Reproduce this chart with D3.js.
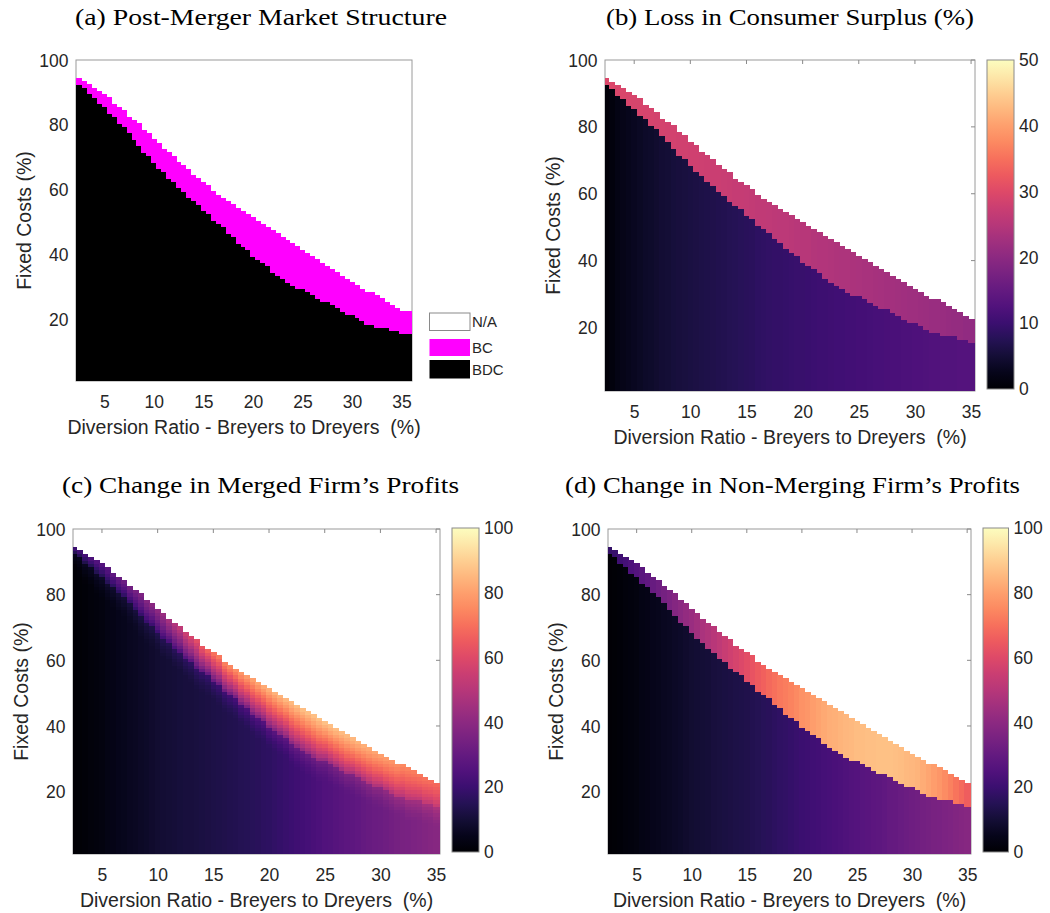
<!DOCTYPE html>
<html lang="en">
<head>
<meta charset="utf-8">
<title>Merger simulation maps</title>
<script src="https://cdn.jsdelivr.net/npm/d3@7"></script>
<style>
  body { margin: 0; background: #fff; }
  text { font-family: "Liberation Sans", Arial, sans-serif; fill: #262626; }
  .title { font-family: "Liberation Serif", "DejaVu Serif", serif; fill: #000; }
</style>
</head>
<body>
<script>
// diversion ratio grid (%), one column every 0.5 point
var ratios = d3.range(2.5, 35.01, 0.5);

// fixed cost (%) thresholds per column
// rows above upperFC: N/A, between: BC, at or below lowerFC: BDC
var upperFC = [94, 93, 92, 91, 90,  89, 88, 86, 85, 84,  82, 81, 80, 78, 77,
               75, 74, 72, 71, 70,  68, 67, 66, 64, 63,  62, 61, 59, 58, 57,
               56, 55, 54, 53, 52,  51, 50, 49, 48, 47,  46, 45, 44, 43, 42,
               41, 40, 39, 38, 37,  36, 35, 34, 33, 32,  31, 30, 29, 28, 28,
               27, 26, 25, 24, 23,  22];
var lowerFC = [92, 91, 89, 88, 86,  85, 83, 82, 80, 79,  77, 75, 73, 71, 70,
               68, 66, 65, 63, 62,  60, 59, 57, 56, 55,  53, 52, 50, 49, 48,
               46, 45, 43, 42, 41,  39, 38, 37, 36, 34,  33, 32, 31, 30, 29,
               29, 28, 27, 26, 25,  25, 24, 23, 22, 21,  21, 20, 19, 18, 18,
               17, 17, 17, 16, 16,  15];

// (b) loss in consumer surplus (%)
var csLossBDC = [0.8, 1.3, 1.8, 2.3, 2.7,  3.1, 3.5, 3.8, 4.1, 4.4,  4.7, 5.0, 5.3, 5.5, 5.8,
                 6.0, 6.2, 6.4, 6.6, 6.8,  7.0, 7.2, 7.4, 7.6, 7.8,  8.0, 8.2, 8.4, 8.6, 8.8,
                 9.0, 9.1, 9.3, 9.4, 9.6,  9.7, 9.9, 10.0, 10.2, 10.3,  10.5, 10.6, 10.7, 10.8, 10.9,
                 11.0, 11.1, 11.3, 11.4, 11.5,  11.7, 11.8, 11.9, 12.0, 12.1,  12.2, 12.3, 12.4, 12.5, 12.6,
                 12.7, 12.8, 12.8, 12.9, 13.0,  13.0];
var csLossBC = [29.6, 29.5, 29.4, 29.3, 29.2,  29.1, 29.0, 28.9, 28.8, 28.7,  28.6, 28.5, 28.4, 28.3, 28.2,
                28.1, 28.0, 27.8, 27.7, 27.5,  27.4, 27.2, 27.1, 26.9, 26.8,  26.6, 26.5, 26.3, 26.2, 26.0,
                25.9, 25.7, 25.6, 25.4, 25.3,  25.1, 25.0, 24.8, 24.6, 24.5,  24.3, 24.2, 24.0, 23.9, 23.7,
                23.6, 23.4, 23.3, 23.1, 23.0,  22.8, 22.7, 22.5, 22.4, 22.2,  22.1, 21.9, 21.8, 21.6, 21.5,
                21.3, 21.2, 21.0, 20.9, 20.7,  20.6];

// (c) change in merged firm's profits (%)
var mergedBDC = [0.5, 1.0, 1.5, 2.0, 2.5,  3.0, 3.6, 4.2, 4.8, 5.4,  6.0, 6.6, 7.2, 7.8, 8.4,
                 9.0, 9.4, 9.8, 10.2, 10.6,  11.0, 11.3, 11.6, 11.9, 12.2,  12.5, 12.9, 13.3, 13.7, 14.1,
                 14.5, 15.0, 15.5, 16.0, 16.5,  17.0, 17.8, 18.6, 19.4, 20.2,  21.0, 21.8, 22.6, 23.4, 24.2,
                 25.0, 25.7, 26.4, 27.1, 27.8,  28.5, 29.2, 29.9, 30.6, 31.3,  32.0, 32.7, 33.4, 34.1, 34.8,
                 35.5, 36.1, 36.7, 37.3, 37.9,  38.5];
var mergedBCTop = [20, 21, 22, 24, 25,  26, 27.5, 29, 30.5, 32,  33, 34.5, 36, 37.5, 39,
                   40, 43, 46, 49, 52,  55, 58, 61, 64, 67,  70, 71.6, 73.2, 74.8, 76.4,
                   78, 79, 80, 81, 82,  83, 83.6, 84.2, 84.8, 85.4,  86, 86.2, 86.4, 86.6, 86.8,
                   87, 86.6, 86.2, 85.8, 85.4,  85, 84, 83, 82, 81,  80, 78.8, 77.6, 76.4, 75.2,
                   74, 72.8, 71.6, 70.4, 69.2,  68];
var mergedBCBottom = [6, 6.6, 7.2, 7.8, 8.4,  9, 9.6, 10.2, 10.8, 11.4,  12, 12.6, 13.2, 13.8, 14.4,
                      15, 15.6, 16.2, 16.8, 17.4,  18, 18.6, 19.2, 19.8, 20.4,  21, 21.8, 22.6, 23.4, 24.2,
                      25, 25.6, 26.2, 26.8, 27.4,  28, 28.8, 29.6, 30.4, 31.2,  32, 32.6, 33.2, 33.8, 34.4,
                      35, 35.8, 36.6, 37.4, 38.2,  39, 39.6, 40.2, 40.8, 41.4,  42, 42.8, 43.6, 44.4, 45.2,
                      46, 46.8, 47.6, 48.4, 49.2,  50];

// (d) change in non-merging firm's profits (%)
var rivalBDC = [0.5, 1.0, 1.5, 2.0, 2.5,  3.0, 3.6, 4.2, 4.8, 5.4,  6.0, 6.6, 7.2, 7.8, 8.4,
                9.0, 9.5, 10.0, 10.5, 11.0,  11.5, 11.9, 12.3, 12.7, 13.1,  13.5, 14.1, 14.7, 15.3, 15.9,
                16.5, 17.2, 17.9, 18.6, 19.3,  20.0, 20.6, 21.2, 21.8, 22.4,  23.0, 23.6, 24.2, 24.8, 25.4,
                26.0, 26.6, 27.2, 27.8, 28.4,  29.0, 29.7, 30.4, 31.1, 31.8,  32.5, 33.1, 33.7, 34.3, 34.9,
                35.5, 36.1, 36.7, 37.3, 37.9,  38.5];
var rivalBC = [18, 19.5, 21, 22.5, 24.5,  26, 27.5, 29, 30.5, 32.5,  34, 36, 38, 39.5, 41.5,
               43, 45, 47, 48.5, 50.5,  52, 54, 56, 57.5, 59.5,  61, 63, 65, 66.5, 68.5,
               70, 71.5, 73, 74, 75.5,  77, 78, 79.5, 80.5, 82,  83, 83.5, 84, 85, 85.5,
               86, 86.2, 86.5, 86.7, 86.9,  87, 86.8, 86.4, 86, 85.5,  85, 84, 82.5, 81, 79.5,
               78, 76, 73.5, 71, 68.5,  66];

var xTicks = [5, 10, 15, 20, 25, 30, 35];
var yTicks = [20, 40, 60, 80, 100];
var legendLabels = ["N/A", "BC", "BDC"];

var svg = d3.select("body").append("svg")
    .attr("width", 1050)
    .attr("height", 913);

var panels = [
  { key: "a", title: "(a) Post-Merger Market Structure", left: 76, top: 60, w: 336, h: 321,
    xdom: [2.15, 36.05], titleX: 261, titleY: 25, titleLen: 372 },
  { key: "b", title: "(b) Loss in Consumer Surplus (%)", left: 605, top: 60, w: 370, h: 331,
    xdom: [2.4, 35.35], titleX: 790, titleY: 25, titleLen: 368,
    cbar: { x: 987, y: 60, w: 27, h: 329, max: 50, ticks: [0, 10, 20, 30, 40, 50] } },
  { key: "c", title: "(c) Change in Merged Firm\u2019s Profits", left: 73, top: 529, w: 367, h: 325,
    xdom: [2.4, 35.35], titleX: 260.5, titleY: 493, titleLen: 397,
    cbar: { x: 452, y: 528, w: 27, h: 324, max: 100, ticks: [0, 20, 40, 60, 80, 100] } },
  { key: "d", title: "(d) Change in Non-Merging Firm\u2019s Profits", left: 608, top: 529, w: 363, h: 325,
    xdom: [2.4, 35.35], titleX: 792.5, titleY: 493, titleLen: 455,
    cbar: { x: 983, y: 528, w: 25.5, h: 324, max: 100, ticks: [0, 20, 40, 60, 80, 100] } }
];

panels.forEach(drawPanel);

function drawPanel(p) {
  var x = d3.scaleLinear().domain(p.xdom).range([0, p.w]);
  var y = d3.scaleLinear().domain([1, 100]).range([p.h, 0]);
  var color = p.cbar ? d3.scaleSequential(d3.interpolateMagma).domain([0, p.cbar.max]) : null;

  // title
  svg.append("text")
      .attr("class", "title")
      .attr("x", p.titleX)
      .attr("y", p.titleY)
      .attr("text-anchor", "middle")
      .attr("font-size", 23)
      .attr("textLength", p.titleLen)
      .attr("lengthAdjust", "spacingAndGlyphs")
      .text(p.title);

  var g = svg.append("g").attr("transform", "translate(" + p.left + "," + p.top + ")");

  g.append("clipPath").attr("id", "clip-" + p.key)
    .append("rect").attr("width", p.w).attr("height", p.h);

  // frame and mirrored ticks sit under the image, like the original
  g.append("rect")
      .attr("width", p.w).attr("height", p.h)
      .attr("fill", "none").attr("stroke", "#9a9a9a");
  if (p.key !== "a") {
    g.selectAll(".ttick").data(xTicks).enter().append("line")
        .attr("x1", function(d) { return x(d); }).attr("x2", function(d) { return x(d); })
        .attr("y1", 0).attr("y2", 4)
        .attr("stroke", "#8a8a8a");
    g.selectAll(".rtick").data(yTicks).enter().append("line")
        .attr("x1", p.w).attr("x2", p.w - 4)
        .attr("y1", function(d) { return y(d); }).attr("y2", function(d) { return y(d); })
        .attr("stroke", "#8a8a8a");
  }

  var img = g.append("g")
      .attr("clip-path", "url(#clip-" + p.key + ")")
      .attr("shape-rendering", "crispEdges");

  function cell(px, pw, r0, r1, fill) {
    img.append("rect")
        .attr("x", px).attr("width", pw + 0.4)
        .attr("y", y(r1)).attr("height", y(r0) - y(r1) + 0.4)
        .attr("fill", fill);
  }

  ratios.forEach(function(r, i) {
    var xa = i === 0 ? p.xdom[0] : (ratios[i - 1] + r) / 2;
    var xb = i === ratios.length - 1 ? p.xdom[1] : (r + ratios[i + 1]) / 2;
    var px = x(xa), pw = x(xb) - x(xa);
    var lo = lowerFC[i], up = upperFC[i];
    var row, t, v;

    if (p.key === "a") {
      cell(px, pw, 0.5, lo + 0.5, "#000000");
      cell(px, pw, lo + 0.5, up + 0.5, "#ff00ff");
    }
    if (p.key === "b") {
      cell(px, pw, 0.5, lo + 0.5, color(csLossBDC[i]));
      cell(px, pw, lo + 0.5, up + 0.5, color(csLossBC[i]));
    }
    if (p.key === "d") {
      cell(px, pw, 0.5, lo + 0.5, color(rivalBDC[i]));
      cell(px, pw, lo + 0.5, up + 0.5, color(rivalBC[i]));
    }
    if (p.key === "c") {
      // flat BDC part, then a short fade just under the band
      var fade = 6;
      cell(px, pw, 0.5, lo - fade + 0.5, color(mergedBDC[i]));
      for (row = lo - fade + 1; row <= lo; row++) {
        t = Math.pow((row - (lo - fade)) / (fade + 1), 1.6);
        v = mergedBDC[i] + (mergedBCBottom[i] - mergedBDC[i]) * t;
        cell(px, pw, row - 0.5, row + 0.5, color(v));
      }
      // merged firm's gain rises towards the top of the BC band
      for (row = lo + 1; row <= up; row++) {
        t = Math.pow((row - lo) / (up - lo), 0.7);
        v = mergedBCBottom[i] + (mergedBCTop[i] - mergedBCBottom[i]) * t;
        cell(px, pw, row - 0.5, row + 0.5, color(v));
      }
    }
  });

  // axes
  var xAxis = g.append("g")
      .attr("transform", "translate(0," + p.h + ")")
      .call(d3.axisBottom(x).tickValues(xTicks).tickSize(0));
  xAxis.select(".domain").remove();
  xAxis.selectAll("text")
      .attr("y", 27).attr("dy", null)
      .attr("font-size", 17.5)
      .style("font-family", "'Liberation Sans', Arial, sans-serif")
      .attr("fill", "#262626");

  var yAxis = g.append("g")
      .call(d3.axisLeft(y).tickValues(yTicks).tickSize(0));
  yAxis.select(".domain").remove();
  yAxis.selectAll("text")
      .attr("x", -7.5).attr("dy", "0.35em")
      .attr("font-size", 17.5)
      .style("font-family", "'Liberation Sans', Arial, sans-serif")
      .attr("fill", "#262626");

  g.append("text")
      .attr("x", p.w / 2)
      .attr("y", p.h + 53)
      .attr("text-anchor", "middle")
      .attr("font-size", 19.5)
      .text("Diversion Ratio - Breyers to Dreyers\u00a0\u00a0(%)");

  g.append("text")
      .attr("transform", "translate(-52," + (p.h / 2) + ") rotate(-90)")
      .attr("text-anchor", "middle")
      .attr("dy", "0.35em")
      .attr("font-size", 19.5)
      .text("Fixed Costs (%)");

  if (p.cbar) drawColorbar(p.key, p.cbar);
  else drawLegend();
}

function drawColorbar(key, cb) {
  var grad = svg.append("defs").append("linearGradient")
      .attr("id", "cb-" + key)
      .attr("x1", 0).attr("y1", 1).attr("x2", 0).attr("y2", 0);
  d3.range(0, 1.0001, 0.05).forEach(function(t) {
    grad.append("stop")
        .attr("offset", t)
        .attr("stop-color", d3.interpolateMagma(t));
  });
  svg.append("rect")
      .attr("x", cb.x).attr("y", cb.y)
      .attr("width", cb.w).attr("height", cb.h)
      .attr("fill", "url(#cb-" + key + ")")
      .attr("stroke", "#8a8a8a");
  var s = d3.scaleLinear().domain([0, cb.max]).range([cb.y + cb.h, cb.y]);
  svg.selectAll(".cbl-" + key).data(cb.ticks).enter().append("text")
      .attr("x", cb.x + cb.w + 5)
      .attr("y", function(d) { return s(d); })
      .attr("dy", "0.35em")
      .attr("font-size", 17.5)
      .text(function(d) { return d; });
}

function drawLegend() {
  var boxes = [
    { y: 313, h: 17.5, fill: "#ffffff", stroke: "#8a8a8a" },
    { y: 339, h: 17, fill: "#ff00ff", stroke: "none" },
    { y: 360, h: 18.5, fill: "#000000", stroke: "none" }
  ];
  boxes.forEach(function(b, i) {
    svg.append("rect")
        .attr("x", 429.5).attr("y", b.y)
        .attr("width", 40.5).attr("height", b.h)
        .attr("fill", b.fill).attr("stroke", b.stroke);
    svg.append("text")
        .attr("x", 472).attr("y", b.y + b.h / 2)
        .attr("dy", "0.35em")
        .attr("font-size", 15)
        .text(legendLabels[i]);
  });
}
</script>
</body>
</html>
